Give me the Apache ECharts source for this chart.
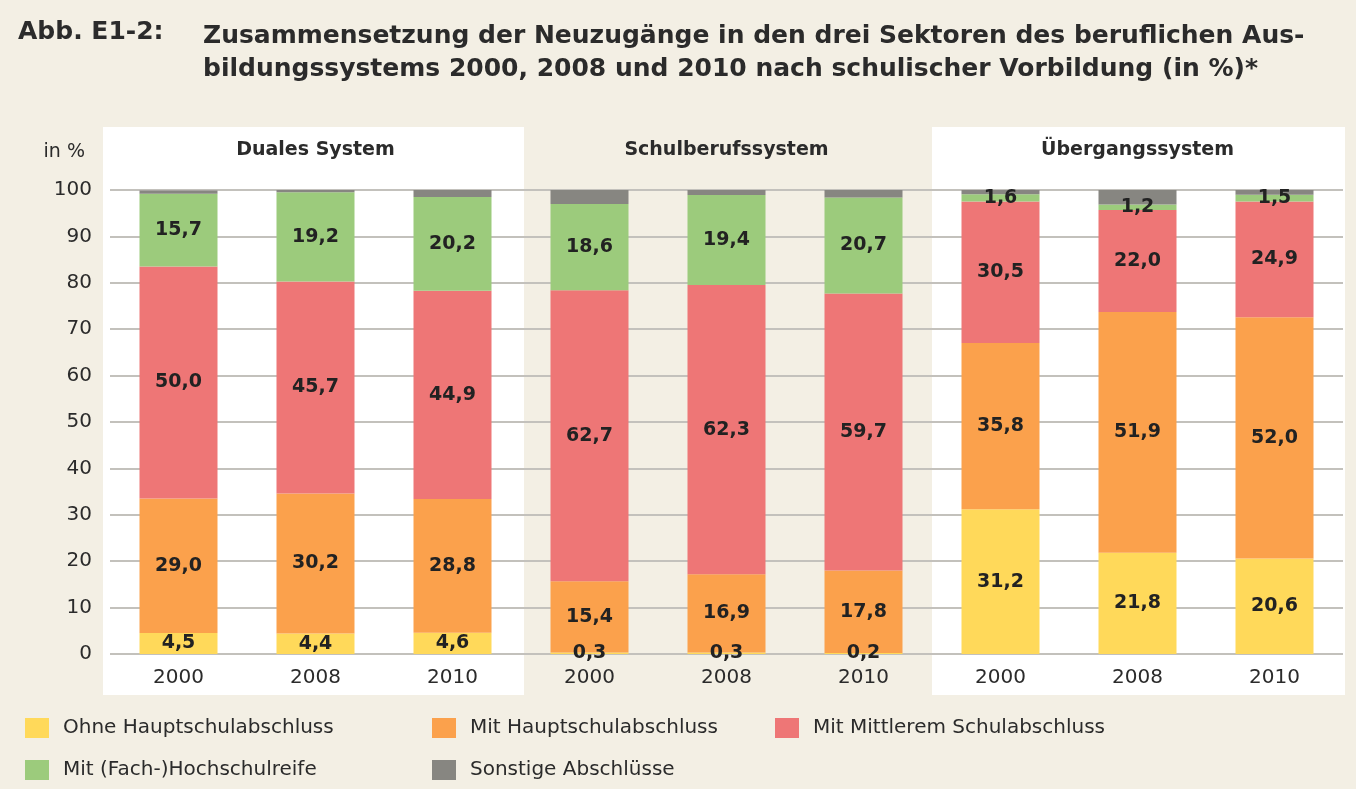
<!DOCTYPE html>
<html>
<head>
<meta charset="utf-8">
<script src="https://cdn.jsdelivr.net/npm/echarts@6/dist/echarts.min.js"></script>
<style>
  html, body { margin: 0; padding: 0; background: #f3efe4; }
  #chart { width: 1356px; height: 789px; }
</style>
</head>
<body>
<div id="chart"></div>
<script>
// Sektoren und Jahre
const sectors = ['Duales System', 'Schulberufssystem', 'Übergangssystem']
const years = ['2000', '2008', '2010']

// Werte in %, je Sektor drei Jahre
const ohneHauptschul = [4.5, 4.4, 4.6, 0.3, 0.3, 0.2, 31.2, 21.8, 20.6]
const mitHauptschul = [29.0, 30.2, 28.8, 15.4, 16.9, 17.8, 35.8, 51.9, 52.0]
const mitMittlerem = [50.0, 45.7, 44.9, 62.7, 62.3, 59.7, 30.5, 22.0, 24.9]
const mitHochschulreife = [15.7, 19.2, 20.2, 18.6, 19.4, 20.7, 1.6, 1.2, 1.5]
const sonstige = [0.7, 0.5, 1.5, 3.0, 1.1, 1.6, 0.9, 3.1, 1.0]

const yTicks = [0, 10, 20, 30, 40, 50, 60, 70, 80, 90, 100]

const categories = []
sectors.forEach(s => years.forEach(y => categories.push(s + '|' + y)))

const font = "'DejaVu Sans', 'Noto Sans', sans-serif"
const txt = '#2b2b2b'

function fmt(v) {
  return v.toFixed(1).replace('.', ',')
}

function makeSeries(name, data, color, showLabel) {
  return {
    name: name,
    type: 'bar',
    stack: 'total',
    barWidth: 78,
    xAxisIndex: 0,
    data: data,
    itemStyle: { color: color },
    label: {
      show: showLabel,
      position: 'inside',
      color: '#222',
      fontFamily: font,
      fontWeight: 'bold',
      fontSize: 19,
      formatter: p => fmt(p.value)
    }
  }
}

// Legende in drei Spalten
const legendBase = {
  orient: 'vertical', top: 718, padding: 0, itemGap: 22, itemWidth: 24, itemHeight: 20,
  icon: 'rect', textStyle: { fontFamily: font, fontSize: 20, color: txt, padding: [0, 0, 0, 9] }
}

const chart = echarts.init(document.getElementById('chart'))

chart.setOption({
  backgroundColor: '#f3efe4',
  animation: false,
  title: [
    {
      text: 'Abb. E1-2:',
      left: 13,
      top: 15,
      textStyle: { fontFamily: font, fontWeight: 'bold', fontSize: 25, color: txt }
    },
    {
      text: 'Zusammensetzung der Neuzugänge in den drei Sektoren des beruflichen Aus-\nbildungssystems 2000, 2008 und 2010 nach schulischer Vorbildung (in %)*',
      left: 198,
      top: 15,
      textStyle: { fontFamily: font, fontWeight: 'bold', fontSize: 25, color: txt, lineHeight: 33 }
    }
  ],
  // Hintergrundflächen der Sektoren
  graphic: [
    { type: 'rect', z: -10, silent: true, shape: { x: 103, y: 127, width: 421, height: 568 }, style: { fill: '#ffffff' } },
    { type: 'rect', z: -10, silent: true, shape: { x: 932, y: 127, width: 413, height: 568 }, style: { fill: '#ffffff' } }
  ],
  legend: [
    Object.assign({}, legendBase, { left: 25, data: ['Ohne Hauptschulabschluss', 'Mit (Fach-)Hochschulreife'] }),
    Object.assign({}, legendBase, { left: 432, data: ['Mit Hauptschulabschluss', 'Sonstige Abschlüsse'] }),
    Object.assign({}, legendBase, { left: 775, data: ['Mit Mittlerem Schulabschluss'] })
  ],
  grid: { left: 110, right: 13, top: 190, bottom: 135 },
  xAxis: [
    {
      type: 'category',
      data: categories,
      axisLine: { show: false },
      axisTick: { show: false },
      axisLabel: {
        formatter: v => v.split('|')[1],
        fontFamily: font, fontSize: 20, color: txt, margin: 14
      }
    },
    {
      type: 'category',
      position: 'top',
      data: sectors,
      axisLine: { show: false },
      axisTick: { show: false },
      axisLabel: { fontFamily: font, fontWeight: 'bold', fontSize: 19, color: txt, margin: 30 }
    }
  ],
  yAxis: {
    type: 'value',
    min: yTicks[0],
    max: yTicks[yTicks.length - 1],
    interval: 10,
    name: 'in %',
    nameLocation: 'end',
    nameGap: 28,
    nameTextStyle: { fontFamily: font, fontSize: 19, color: txt, align: 'right', padding: [0, 25, 0, 0] },
    axisLine: { show: false },
    axisTick: { show: false },
    axisLabel: { fontFamily: font, fontSize: 20, color: txt, margin: 18 },
    splitLine: { lineStyle: { color: '#c3c1bc', width: 2 } }
  },
  series: [
    makeSeries('Ohne Hauptschulabschluss', ohneHauptschul, '#ffd95a', true),
    makeSeries('Mit Hauptschulabschluss', mitHauptschul, '#fba14c', true),
    makeSeries('Mit Mittlerem Schulabschluss', mitMittlerem, '#ee7676', true),
    makeSeries('Mit (Fach-)Hochschulreife', mitHochschulreife, '#9ccb7c', true),
    makeSeries('Sonstige Abschlüsse', sonstige, '#878681', false)
  ]
})
</script>
</body>
</html>
